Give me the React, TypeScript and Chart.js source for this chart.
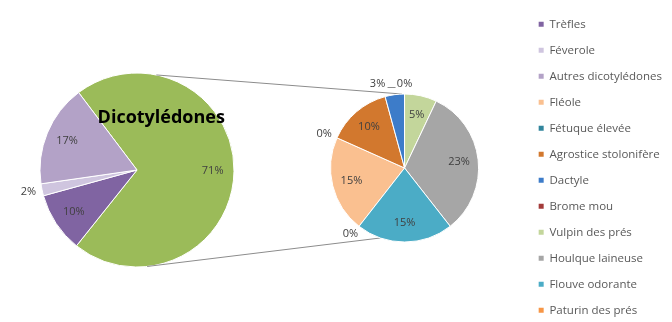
import React, { useEffect, useRef } from 'react';
import { Chart, registerables } from 'chart.js';

Chart.register(...registerables);

// Main pie (left)
const mainLabels = ['Dicotylédones', 'Trèfles', 'Féverole', 'Autres dicotylédones'];
const mainValues = [71, 10, 2, 17];
const mainColors = ['#9BBB59', '#8064A2', '#CFC5DF', '#B3A2C7'];

// Secondary pie (right)
const subLabels = [
  'Fléole',
  'Fétuque élevée',
  'Agrostice stolonifère',
  'Dactyle',
  'Brome mou',
  'Vulpin des prés',
  'Houlque laineuse',
  'Flouve odorante',
  'Paturin des prés',
];
const subValues = [15, 0, 10, 3, 0, 5, 23, 15, 0];
const subColors = ['#FAC090', '#31859C', '#D2782E', '#3D7CC9', '#A33B3A', '#C3D69B', '#A6A6A6', '#4BACC6', '#F79646'];

const FONT = '"Open Sans", "Liberation Sans", sans-serif';

const pctLabels = {
  id: 'pctLabels',
  afterDatasetsDraw(chart: any, _args: any, opts: any) {
    const meta = chart.getDatasetMeta(0);
    const data = chart.data.datasets[0].data as number[];
    const ctx = chart.ctx;
    const items: any[] = [];
    meta.data.forEach((arc: any, i: number) => {
      const { x, y, startAngle, endAngle, outerRadius } = arc.getProps(
        ['x', 'y', 'startAngle', 'endAngle', 'outerRadius'],
        true
      );
      const mid = (startAngle + endAngle) / 2;
      const v = data[i];
      const inside = v >= 4;
      const c = Math.cos(mid);
      const s = Math.sin(mid);
      let lx: number;
      let ly: number;
      if (inside) {
        lx = x + c * outerRadius * opts.inner;
        ly = y + s * outerRadius * opts.inner;
      } else {
        const d = outerRadius + 10;
        lx = x + c * d + c * 4;
        ly = y + s * d;
      }
      items.push({ x: lx, y: ly, text: v + '%', inside });
    });
    // resolve collisions between outside labels
    const links: any[] = [];
    for (let i = 1; i < items.length; i++) {
      const b = items[i];
      if (b.inside) continue;
      for (let j = 0; j < i; j++) {
        const a = items[j];
        if (a.inside) continue;
        if (Math.abs(b.x - a.x) < 22 && Math.abs(b.y - a.y) < 10) {
          a.x = b.x - 27;
          a.y = b.y;
          links.push([a, b]);
        }
      }
    }
    ctx.save();
    ctx.font = '11px ' + FONT;
    ctx.fillStyle = '#404040';
    ctx.textAlign = 'center';
    ctx.textBaseline = 'middle';
    ctx.strokeStyle = '#8C8C8C';
    ctx.lineWidth = 1;
    links.forEach(([a, b]) => {
      ctx.beginPath();
      ctx.moveTo(a.x + 10, a.y + 3.5);
      ctx.lineTo(b.x - 9, a.y + 3.5);
      ctx.stroke();
    });
    items.forEach((it) => {
      ctx.fillText(it.text, it.x, it.y);
    });
    if (opts.title) {
      const arc = meta.data[0];
      ctx.font = 'bold 18px ' + FONT;
      ctx.fillStyle = '#000000';
      ctx.fillText(chart.data.labels[0], arc.x + arc.outerRadius * 0.25, arc.y - arc.outerRadius * 0.54);
    }
    ctx.restore();
  },
};

export default function App() {
  const aRef = useRef<HTMLCanvasElement>(null);
  const bRef = useRef<HTMLCanvasElement>(null);

  useEffect(() => {
    const chartA = new Chart(aRef.current as HTMLCanvasElement, {
      type: 'pie',
      data: {
        labels: mainLabels,
        datasets: [
          {
            data: mainValues,
            backgroundColor: mainColors,
            borderColor: '#ffffff',
            borderWidth: 1,
          },
        ],
      },
      options: {
        responsive: false,
        animation: false,
        radius: 97,
        rotation: -37,
        layout: { padding: { left: 40, right: 438, top: 73, bottom: 55 } },
        plugins: {
          legend: { display: false },
          tooltip: { enabled: false },
          pctLabels: { inner: 0.78, title: true },
        } as any,
      } as any,
      plugins: [pctLabels],
    });

    const connectors = {
      id: 'connectors',
      beforeDatasetsDraw(chart: any) {
        const ma: any = chartA.getDatasetMeta(0).data[0];
        const mb: any = chart.getDatasetMeta(0).data[0];
        if (!ma || !mb) return;
        const pt = (arc: any, deg: number) => [
          arc.x + arc.outerRadius * Math.sin((deg * Math.PI) / 180),
          arc.y - arc.outerRadius * Math.cos((deg * Math.PI) / 180),
        ];
        const ctx = chart.ctx;
        ctx.save();
        ctx.strokeStyle = '#8C8C8C';
        ctx.lineWidth = 1;
        const pairs = [
          [pt(ma, 11.5), pt(mb, -2)],
          [pt(ma, 174), pt(mb, 199)],
        ];
        pairs.forEach(([p, q]) => {
          ctx.beginPath();
          ctx.moveTo(p[0], p[1]);
          ctx.lineTo(q[0], q[1]);
          ctx.stroke();
        });
        ctx.restore();
      },
    };

    const legendNames = [...mainLabels.slice(1), ...subLabels];
    const legendColors = [...mainColors.slice(1), ...subColors];

    const chartB = new Chart(bRef.current as HTMLCanvasElement, {
      type: 'pie',
      data: {
        labels: subLabels,
        datasets: [
          {
            data: subValues,
            backgroundColor: subColors,
            borderColor: '#ffffff',
            borderWidth: 1,
          },
        ],
      },
      options: {
        responsive: false,
        animation: false,
        radius: 74,
        rotation: 218,
        layout: { padding: { left: 285, right: 0, top: 4, bottom: 68 } },
        plugins: {
          tooltip: { enabled: false },
          pctLabels: { inner: 0.74, title: false },
          legend: {
            display: true,
            position: 'right',
            align: 'start',
            labels: {
              boxWidth: 5,
              boxHeight: 5,
              padding: 14.5,
              color: '#595959',
              font: { size: 11.5, family: FONT },
              generateLabels: () =>
                legendNames.map((t, i) => ({
                  text: t,
                  fillStyle: legendColors[i],
                  strokeStyle: legendColors[i],
                  lineWidth: 0,
                  hidden: false,
                  index: i,
                  fontColor: '#595959',
                })),
            },
          },
        } as any,
      } as any,
      plugins: [pctLabels, connectors],
    });

    return () => {
      chartB.destroy();
      chartA.destroy();
    };
  }, []);

  return (
    <div
      style={{
        position: 'fixed',
        left: 0,
        top: 0,
        width: 672,
        height: 322,
        overflow: 'hidden',
        background: '#ffffff',
      }}
    >
      <canvas ref={aRef} width={672} height={322} style={{ position: 'absolute', left: 0, top: 0 }} />
      <canvas ref={bRef} width={672} height={400} style={{ position: 'absolute', left: 0, top: 0 }} />
    </div>
  );
}
